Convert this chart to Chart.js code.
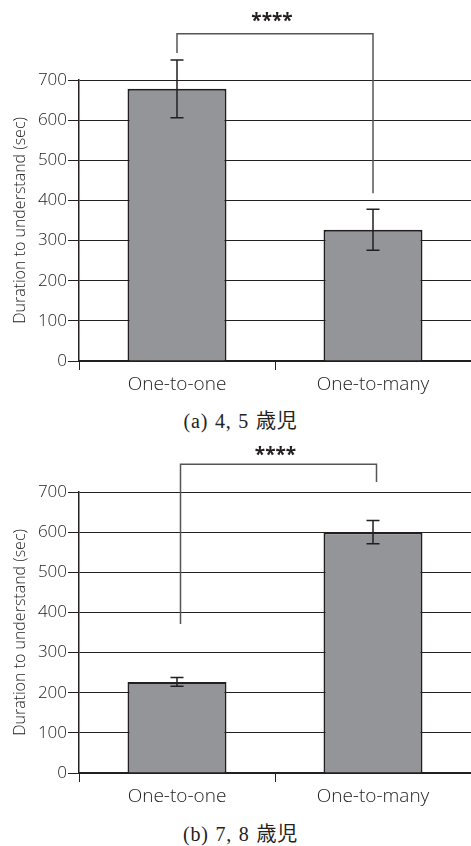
<!DOCTYPE html>
<html>
<head>
<meta charset="utf-8">
<script src="https://cdn.jsdelivr.net/npm/chart.js@4.4.0/dist/chart.umd.min.js"></script>
<style>
  html, body { margin: 0; padding: 0; background: #fff; }
  body { width: 471px; height: 846px; position: relative; overflow: hidden; }
  .panel { position: absolute; left: 0; width: 471px; height: 400px; }
  .caption {
    position: absolute; left: 0; width: 471px; text-align: center;
    font-family: "Liberation Serif", "Noto Sans CJK JP", serif;
    font-size: 20px; line-height: 22px; color: #222;
    letter-spacing: 0.8px; word-spacing: 1px;
    padding-left: 10px; box-sizing: border-box;
  }
</style>
</head>
<body>
<div class="panel" style="top:0"><canvas id="chartA" width="471" height="400"></canvas></div>
<div class="caption" style="top:410px">(a) 4, 5 歳児</div>
<div class="panel" style="top:412px"><canvas id="chartB" width="471" height="400"></canvas></div>
<div class="caption" style="top:823px">(b) 7, 8 歳児</div>

<script>
// Conditions compared in both panels
const categories = ['One-to-one', 'One-to-many'];

// Panel (a): 4-5 year olds — mean duration and error (sec)
const meansA = [678, 327];
const errorsA = [72, 51];

// Panel (b): 7-8 year olds — mean duration and error (sec)
const meansB = [227, 600];
const errorsB = [11, 29];

// Y axis range and step
const yMin = 0;
const yMax = 700;
const yStep = 100;

// Significance brackets: [bar height, left leg end, right leg end] in seconds
const bracketA = [815, 767, 418];
const bracketB = [769, 371, 725];
const sigLabel = '****';

const axisTitle = 'Duration to understand (sec)';
const sansFont = '"Open Sans", "Noto Sans", sans-serif';
const ink = '#231f20';

// Draws error bars and the significance bracket on top of the bars
const annotate = {
  id: 'annotate',
  afterDatasetsDraw(chart, args, opts) {
    const { ctx } = chart;
    const y = chart.scales.y;
    const meta = chart.getDatasetMeta(0);
    ctx.save();
    // error bars
    ctx.strokeStyle = ink;
    ctx.lineWidth = 1.5;
    const cap = 6.5;
    opts.errors.forEach((e, i) => {
      const x = meta.data[i].x;
      const m = opts.means[i];
      const yHi = y.getPixelForValue(m + e);
      const yLo = y.getPixelForValue(m - e);
      ctx.beginPath();
      ctx.moveTo(x, yHi); ctx.lineTo(x, yLo);
      ctx.moveTo(x - cap, yHi); ctx.lineTo(x + cap, yHi);
      ctx.moveTo(x - cap, yLo); ctx.lineTo(x + cap, yLo);
      ctx.stroke();
    });
    // significance bracket
    const [top, leftEnd, rightEnd] = opts.bracket;
    const x0 = meta.data[0].x + opts.dx;
    const x1 = meta.data[1].x + opts.dx;
    const yt = y.getPixelForValue(top);
    ctx.strokeStyle = '#555';
    ctx.lineWidth = 1.5;
    ctx.beginPath();
    ctx.moveTo(x0, y.getPixelForValue(leftEnd));
    ctx.lineTo(x0, yt);
    ctx.lineTo(x1, yt);
    ctx.lineTo(x1, y.getPixelForValue(rightEnd));
    ctx.stroke();
    ctx.fillStyle = ink;
    ctx.font = 'bold 19px ' + sansFont;
    ctx.textAlign = 'center';
    ctx.textBaseline = 'alphabetic';
    ctx.fillText(sigLabel, (x0 + x1) / 2 - 3, yt - opts.labelGap);
    ctx.restore();
  }
};

function makeChart(id, means, errors, bracket, dx, labelGap) {
  return new Chart(document.getElementById(id), {
    type: 'bar',
    data: {
      labels: categories,
      datasets: [{
        data: means,
        backgroundColor: '#939598',
        borderColor: ink,
        borderWidth: 2,
        barPercentage: 0.505,
        categoryPercentage: 1.0
      }]
    },
    options: {
      responsive: false,
      animation: false,
      events: [],
      layout: { padding: { top: 80, left: 0, right: 0, bottom: 0 } },
      plugins: {
        legend: { display: false },
        tooltip: { enabled: false },
        annotate: { means, errors, bracket, dx, labelGap }
      },
      scales: {
        x: {
          offset: true,
          afterFit: (s) => { s.height = 39; },
          grid: {
            offset: true,
            drawOnChartArea: false,
            drawTicks: true,
            tickLength: 9,
            color: ink,
            lineWidth: 1
          },
          border: { display: true, color: ink, width: 2 },
          ticks: {
            color: '#222',
            padding: 3,
            font: { family: sansFont, size: 19, weight: 300 }
          }
        },
        y: {
          min: yMin,
          max: yMax,
          afterFit: (s) => { s.width = 79; },
          ticks: {
            stepSize: yStep,
            color: '#222',
            padding: 1,
            font: { family: sansFont, size: 17, weight: 300 }
          },
          grid: { color: ink, lineWidth: 1, tickLength: 11 },
          border: { display: true, color: ink, width: 1.5 },
          title: {
            display: true,
            text: axisTitle,
            color: '#222',
            padding: { top: 11, bottom: 0 },
            font: { family: sansFont, size: 16, weight: 300 }
          }
        }
      }
    },
    plugins: [annotate]
  });
}

makeChart('chartA', meansA, errorsA, bracketA, 0, 7);
makeChart('chartB', meansB, errorsB, bracketB, 3.5, 3);
</script>
</body>
</html>
